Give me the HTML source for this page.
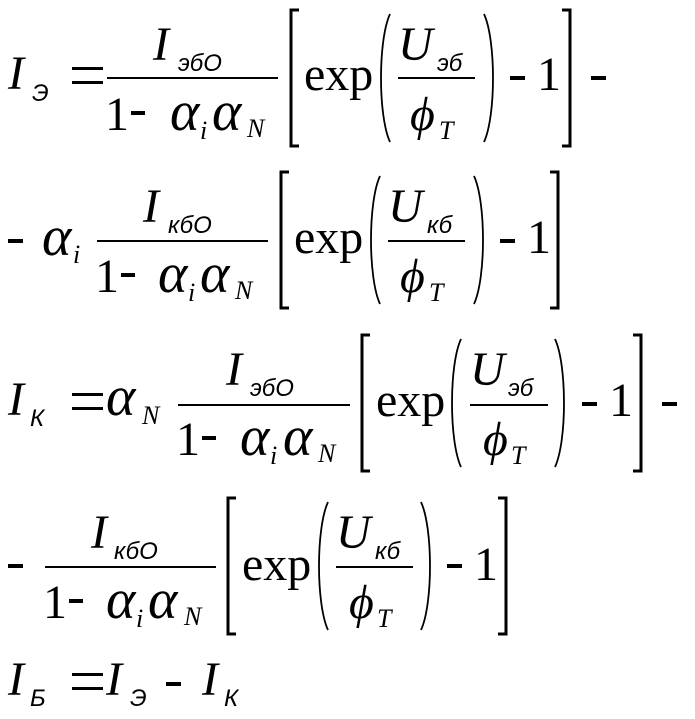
<!DOCTYPE html>
<html><head><meta charset="utf-8"><style>
html,body{margin:0;padding:0;background:#fff;}
svg{display:block}
.I{font-family:"Liberation Serif",serif;font-style:italic;font-size:48px;}
.a{font-family:"Liberation Serif",serif;font-style:italic;font-size:56px;}
.s{font-family:"Liberation Sans",sans-serif;font-style:italic;font-size:24px;}
.u{font-family:"Liberation Serif",serif;font-size:48px;}
.si{font-family:"Liberation Serif",serif;font-style:italic;font-size:26px;}
.br{fill:none;stroke:#000;stroke-width:3;}
.pa{fill:none;stroke:#000;stroke-width:1.8;}
</style></head><body>
<svg width="695" height="719" viewBox="0 0 695 719" xmlns="http://www.w3.org/2000/svg">
<!-- Line 1 -->
<text class="I" x="8" y="89">I</text><text class="s" x="32" y="101">Э</text>
<rect x="72" y="67" width="31" height="3"/><rect x="72" y="81" width="31" height="3"/>
<text class="I" x="153" y="60">I</text><text class="s" x="178" y="71">эбО</text>
<rect x="107" y="77" width="171" height="2"/>
<text class="u" x="105" y="130">1</text><rect x="131" y="111" width="14" height="4"/>
<text class="a" x="170" y="130">α</text><text class="si" x="200" y="139">i</text>
<text class="a" x="212" y="130">α</text><text class="si" x="247" y="137">N</text>
<path class="br" d="M299 10 H291 V146 H299"/>
<text class="u" x="304" y="90">exp</text>
<path class="pa" d="M390 14 C378 40 378 116 390 142"/>
<text class="I" x="398" y="60">U</text><text class="s" x="437" y="71">эб</text>
<rect x="398" y="77" width="77" height="2"/>
<text class="I" x="410" y="130">ϕ</text><text class="si" x="439" y="139">T</text>
<path class="pa" d="M484 14 C496 40 496 116 484 142"/>
<rect x="510" y="76" width="15" height="4"/>
<text class="u" x="537" y="90">1</text>
<path class="br" d="M562 10 H570 V146 H562"/>
<rect x="591" y="76" width="15" height="4"/>
<!-- Line 2 -->
<rect x="8" y="239" width="15" height="4"/>
<text class="a" x="42" y="255">α</text><text class="si" x="73" y="263">i</text>
<text class="I" x="143" y="222">I</text><text class="s" x="168" y="233">кбО</text>
<rect x="97" y="240" width="171" height="2"/>
<text class="u" x="95" y="292">1</text><rect x="121" y="273" width="14" height="4"/>
<text class="a" x="158" y="292">α</text><text class="si" x="188" y="301">i</text>
<text class="a" x="200" y="292">α</text><text class="si" x="235" y="299">N</text>
<path class="br" d="M289 172 H281 V308 H289"/>
<text class="u" x="294" y="253">exp</text>
<path class="pa" d="M380 176 C368 202 368 278 380 304"/>
<text class="I" x="388" y="222">U</text><text class="s" x="427" y="233">кб</text>
<rect x="388" y="240" width="77" height="2"/>
<text class="I" x="400" y="292">ϕ</text><text class="si" x="429" y="301">T</text>
<path class="pa" d="M474 176 C486 202 486 278 474 304"/>
<rect x="500" y="239" width="15" height="4"/>
<text class="u" x="527" y="253">1</text>
<path class="br" d="M550 172 H558 V308 H550"/>
<!-- Line 3 -->
<text class="I" x="8" y="415">I</text><text class="s" x="30" y="426">К</text>
<rect x="72" y="393" width="31" height="3"/><rect x="72" y="407" width="31" height="3"/>
<text class="a" x="106" y="415">α</text><text class="si" x="142" y="424">N</text>
<text class="I" x="226" y="385">I</text><text class="s" x="250" y="396">эбО</text>
<rect x="178" y="404" width="172" height="2"/>
<text class="u" x="176" y="455">1</text><rect x="202" y="436" width="14" height="4"/>
<text class="a" x="240" y="455">α</text><text class="si" x="270" y="464">i</text>
<text class="a" x="283" y="455">α</text><text class="si" x="318" y="462">N</text>
<path class="br" d="M370 335 H362 V471 H370"/>
<text class="u" x="376" y="416">exp</text>
<path class="pa" d="M461 339 C449 365 449 441 461 467"/>
<text class="I" x="470" y="385">U</text><text class="s" x="508" y="396">эб</text>
<rect x="470" y="404" width="78" height="2"/>
<text class="I" x="483" y="455">ϕ</text><text class="si" x="511" y="464">T</text>
<path class="pa" d="M555 339 C567 365 567 441 555 467"/>
<rect x="582" y="402" width="15" height="4"/>
<text class="u" x="609" y="416">1</text>
<path class="br" d="M633 335 H641 V471 H633"/>
<rect x="662" y="402" width="15" height="4"/>
<!-- Line 4 -->
<rect x="8" y="564" width="15" height="4"/>
<text class="I" x="91" y="548">I</text><text class="s" x="114" y="559">кбО</text>
<rect x="45" y="566" width="171" height="2"/>
<text class="u" x="43" y="618">1</text><rect x="69" y="599" width="14" height="4"/>
<text class="a" x="106" y="618">α</text><text class="si" x="136" y="627">i</text>
<text class="a" x="148" y="618">α</text><text class="si" x="184" y="625">N</text>
<path class="br" d="M236 498 H228 V634 H236"/>
<text class="u" x="242" y="580">exp</text>
<path class="pa" d="M328 502 C316 528 316 604 328 630"/>
<text class="I" x="336" y="548">U</text><text class="s" x="375" y="559">кб</text>
<rect x="336" y="566" width="77" height="2"/>
<text class="I" x="349" y="618">ϕ</text><text class="si" x="377" y="627">T</text>
<path class="pa" d="M421 502 C433 528 433 604 421 630"/>
<rect x="447" y="564" width="15" height="4"/>
<text class="u" x="474" y="580">1</text>
<path class="br" d="M498 498 H506 V634 H498"/>
<!-- Line 5 -->
<text class="I" x="8" y="695">I</text><text class="s" x="30" y="706">Б</text>
<rect x="72" y="673" width="31" height="3"/><rect x="72" y="687" width="31" height="3"/>
<text class="I" x="106" y="695">I</text><text class="s" x="130" y="706">Э</text>
<rect x="166" y="682" width="15" height="4"/>
<text class="I" x="202" y="695">I</text><text class="s" x="224" y="706">К</text>
</svg>
</body></html>
